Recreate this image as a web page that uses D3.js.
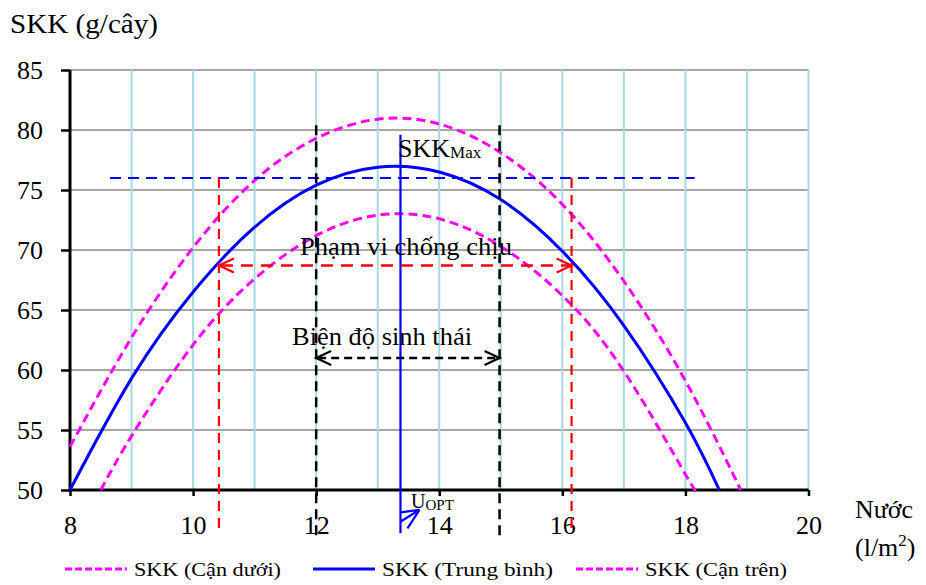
<!DOCTYPE html>
<html><head><meta charset="utf-8">
<script src="https://cdn.jsdelivr.net/npm/d3@7"></script>
<style>body{margin:0;background:#fff}svg{display:block}text{font-family:"Liberation Serif","Times New Roman",serif;fill:#000}</style>
</head><body>
<svg id="c" width="926" height="585"></svg>
<script>
// ---- data ----
const xTicks = [8, 10, 12, 14, 16, 18, 20];
const yTicks = [50, 55, 60, 65, 70, 75, 80, 85];
const xGrid = [9, 10, 11, 12, 13, 14, 15, 16, 17, 18, 19, 20];

const lowerX = [8.5, 9, 10, 11, 12, 13, 14, 15, 16, 17, 18, 18.18];
const lowerY = [50, 54.5, 62.1, 67.6, 71.2, 72.9, 72.6, 70.3, 66.2, 59.9, 51.3, 50];
const meanX  = [8, 9, 10, 11, 12, 13, 14, 15, 16, 17, 18, 18.55];
const meanY  = [50, 59.3, 66.5, 71.9, 75.4, 76.9, 76.5, 74.2, 69.9, 63.7, 55.6, 50];
const upperX = [8, 9, 10, 11, 12, 13, 14, 15, 16, 17, 18, 18.9];
const upperY = [53.6, 62.7, 70.2, 75.8, 79.3, 80.9, 80.5, 78.1, 73.8, 67.4, 59.1, 50];

const skkMax = 76;          // dashed horizontal level
const skkMaxRange = [8.65, 18.15];
const uOpt = 13.37;
const tolerance = [10.42, 16.15];   // Phạm vi chống chịu
const toleranceLevel = 68.7;
const ecoRange = [12, 14.98];       // Biện độ sinh thái
const ecoLevel = 61;

const legendNames = ["SKK (Cận dưới)", "SKK (Trung bình)", "SKK (Cận trên)"];

// ---- chart ----
const svg = d3.select("#c");
const x = d3.scaleLinear([8, 20], [70, 808.5]);
const y = d3.scaleLinear([50, 85], [490, 70]);

// grid
svg.append("g").selectAll("line").data(yTicks.filter(d => d > 50)).join("line")
  .attr("x1", x(8)).attr("x2", x(20)).attr("y1", d => y(d)).attr("y2", d => y(d))
  .attr("stroke", "#a6a6a6").attr("stroke-width", 2);
svg.append("g").selectAll("line").data(xGrid).join("line")
  .attr("x1", d => x(d)).attr("x2", d => x(d)).attr("y1", y(85)).attr("y2", y(50))
  .attr("stroke", "#a8d8e4").attr("stroke-width", 2);

// axes
const ax = svg.append("g").attr("transform", `translate(0,${y(50)})`)
  .call(d3.axisBottom(x).tickValues(xTicks).tickSize(6).tickPadding(20).tickFormat(d3.format("d")));
const ay = svg.append("g").attr("transform", `translate(${x(8)},0)`)
  .call(d3.axisLeft(y).tickValues(yTicks).tickSize(9).tickPadding(18).tickFormat(d3.format("d")));
[ax, ay].forEach(a => {
  a.select(".domain").attr("stroke", "#000").attr("stroke-width", 3);
  a.selectAll(".tick line").attr("stroke", "#000").attr("stroke-width", 2.5);
  a.selectAll("text").attr("font-size", 26).attr("font-family", '"Liberation Serif","Times New Roman",serif').attr("fill", "#000");
});
ax.select(".domain").attr("d", `M${x(8)},0H${x(20)}`);
ay.select(".domain").attr("d", `M0,${y(85)}V${y(50)}`);

// curves
const line = d3.line().x(d => x(d[0])).y(d => y(d[1])).curve(d3.curveNatural);
const series = [
  {xs: lowerX, ys: lowerY, color: "#ff00ff", dash: "9,5"},
  {xs: meanX, ys: meanY, color: "#0000ff", dash: null},
  {xs: upperX, ys: upperY, color: "#ff00ff", dash: "9,5"}
];
series.forEach(s => {
  svg.append("path").datum(s.xs.map((v, i) => [v, s.ys[i]]))
    .attr("d", line).attr("fill", "none").attr("stroke", s.color)
    .attr("stroke-width", 3).attr("stroke-dasharray", s.dash);
});

// annotations
const ann = svg.append("g");
ann.append("line").attr("x1", x(skkMaxRange[0])).attr("x2", x(skkMaxRange[1]))
  .attr("y1", y(skkMax)).attr("y2", y(skkMax))
  .attr("stroke", "#0000ff").attr("stroke-width", 2.2).attr("stroke-dasharray", "11,7");
tolerance.forEach(v => ann.append("line").attr("x1", x(v)).attr("x2", x(v))
  .attr("y1", y(skkMax)).attr("y2", y(46.6))
  .attr("stroke", "#ff0000").attr("stroke-width", 2.2).attr("stroke-dasharray", "10,7"));
ecoRange.forEach(v => ann.append("line").attr("x1", x(v)).attr("x2", x(v))
  .attr("y1", y(80.4)).attr("y2", y(45.8))
  .attr("stroke", "#000").attr("stroke-width", 2.5).attr("stroke-dasharray", "10,6"));
ann.append("line").attr("x1", x(uOpt)).attr("x2", x(uOpt))
  .attr("y1", y(79.6)).attr("y2", y(46.4))
  .attr("stroke", "#0000ff").attr("stroke-width", 2.2);

function dblArrow(a, b, lvl, color, dash) {
  const x1 = x(a), x2 = x(b), yy = y(lvl);
  ann.append("line").attr("x1", x1 + 2).attr("x2", x2 - 2).attr("y1", yy).attr("y2", yy)
    .attr("stroke", color).attr("stroke-width", 2.5).attr("stroke-dasharray", dash);
  const h = 15, w = 7;
  ann.append("path").attr("d", `M${x1 + h},${yy - w}L${x1},${yy}L${x1 + h},${yy + w}`)
    .attr("fill", "none").attr("stroke", color).attr("stroke-width", 2.2);
  ann.append("path").attr("d", `M${x2 - h},${yy - w}L${x2},${yy}L${x2 - h},${yy + w}`)
    .attr("fill", "none").attr("stroke", color).attr("stroke-width", 2.2);
}
dblArrow(tolerance[0], tolerance[1], toleranceLevel, "#ff0000", "12,8");
dblArrow(ecoRange[0], ecoRange[1], ecoLevel, "#000", "8,5");

const ux = x(uOpt);
const tipX = ux + 19, tipY = y(48.35);
ann.append("path").attr("d", `M${ux + 7},${y(46.8)}L${tipX},${tipY}M${ux},${tipY + 2.5}L${tipX},${tipY}L${ux},${tipY + 12}`)
  .attr("fill", "none").attr("stroke", "#0000ff").attr("stroke-width", 2.2);

// texts
const skt = svg.append("text").attr("x", 398).attr("y", 157).attr("font-size", 26);
skt.append("tspan").text("SKK");
skt.append("tspan").attr("font-size", 17).attr("dy", 1).text("Max");

svg.append("text").attr("x", 300).attr("y", 255).attr("font-size", 25)
  .attr("textLength", 212).attr("lengthAdjust", "spacingAndGlyphs").text("Phạm vi chống chịu");
svg.append("text").attr("x", 292).attr("y", 345).attr("font-size", 25)
  .attr("textLength", 180).attr("lengthAdjust", "spacingAndGlyphs").text("Biện độ sinh thái");

const ut = svg.append("text").attr("x", 411).attr("y", 508).attr("font-size", 20);
ut.append("tspan").text("U");
ut.append("tspan").attr("font-size", 15).attr("dy", 2).text("OPT");

svg.append("text").attr("x", 10).attr("y", 33).attr("font-size", 27)
  .attr("textLength", 148).attr("lengthAdjust", "spacingAndGlyphs").text("SKK (g/cây)");
svg.append("text").attr("x", 855).attr("y", 518).attr("font-size", 26).text("Nước");
const lt = svg.append("text").attr("x", 855).attr("y", 556).attr("font-size", 26);
lt.append("tspan").text("(l/m");
lt.append("tspan").attr("font-size", 17).attr("dy", -10).text("2");
lt.append("tspan").attr("dy", 10).text(")");

// legend
const legX = [65, 313, 576];
const legW = [147, 171, 142];
const lg = svg.append("g");
series.forEach((s, i) => {
  lg.append("line").attr("x1", legX[i]).attr("x2", legX[i] + 62).attr("y1", 569).attr("y2", 569)
    .attr("stroke", s.color).attr("stroke-width", 3).attr("stroke-dasharray", s.dash ? "7,3" : null);
  lg.append("text").attr("x", legX[i] + 69).attr("y", 576).attr("font-size", 18)
    .attr("textLength", legW[i]).attr("lengthAdjust", "spacingAndGlyphs").text(legendNames[i]);
});
</script>
</body></html>
